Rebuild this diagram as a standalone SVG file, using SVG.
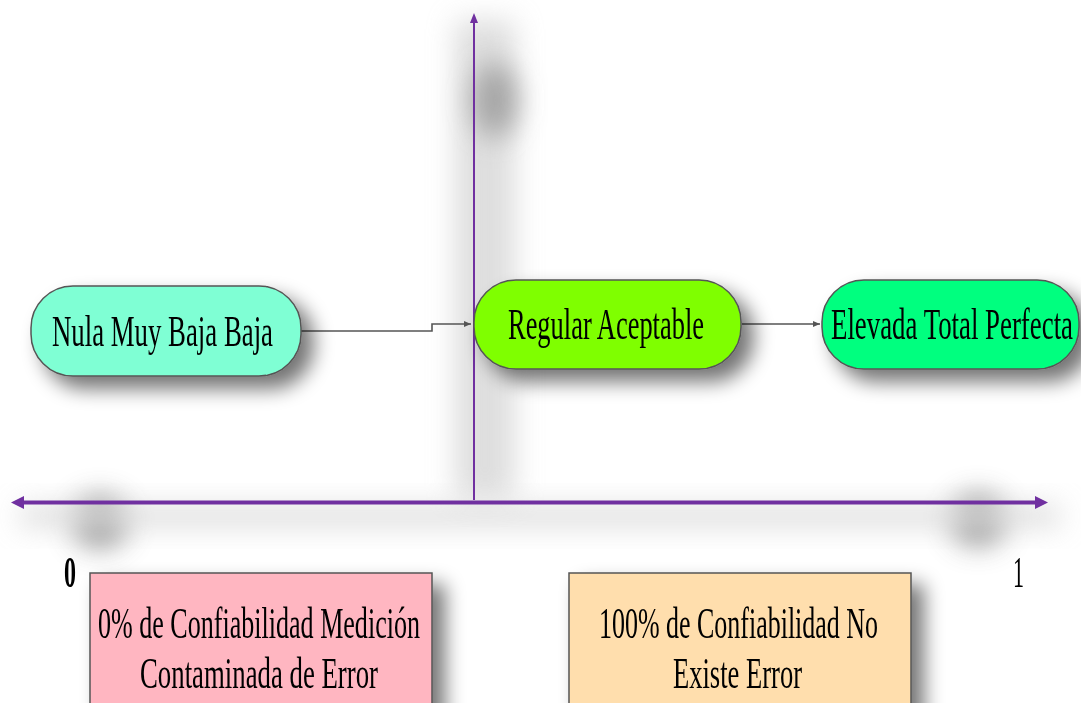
<svg xmlns="http://www.w3.org/2000/svg" width="1081" height="703" viewBox="0 0 1081 703">
<style>
  .t{font-family:"Liberation Serif","Times New Roman",serif;font-size:45px;fill:#000}
  .n{stroke:#555;stroke-width:1.5}
  .ax{stroke:#7030A0;fill:none}
  .cn{stroke:#555;stroke-width:1.6;fill:none}
</style>
<defs>
  <filter id="sh" x="-30%" y="-40%" width="160%" height="180%">
    <feGaussianBlur in="SourceAlpha" stdDeviation="10"/>
    <feOffset dx="12" dy="12" result="b"/>
    <feComponentTransfer><feFuncA type="linear" slope="0.55"/></feComponentTransfer>
    <feMerge><feMergeNode/><feMergeNode in="SourceGraphic"/></feMerge>
  </filter>
  <filter id="blob" x="-100%" y="-100%" width="300%" height="300%">
    <feGaussianBlur stdDeviation="14"/>
  </filter>
  <marker id="ah" markerWidth="8" markerHeight="8" refX="7" refY="4" orient="auto" markerUnits="userSpaceOnUse">
    <path d="M0,1 L7,4 L0,7 z" fill="#555"/>
  </marker>
</defs>
<rect width="1081" height="703" fill="#fff"/>
<g id="shadows" opacity="0.6">
  <rect x="455" y="20" width="60" height="480" fill="#c8c8c8" filter="url(#blob)"/>
  <ellipse cx="495" cy="100" rx="22" ry="38" fill="#666" filter="url(#blob)"/>
  <ellipse cx="100" cy="522" rx="28" ry="26" fill="#555" filter="url(#blob)"/>
  <ellipse cx="978" cy="520" rx="28" ry="26" fill="#555" filter="url(#blob)"/>
  <rect x="20" y="505" width="1040" height="22" fill="#c8c8c8" filter="url(#blob)"/>
</g>
<g id="axes">
  <line class="ax" x1="474" y1="500" x2="474" y2="22" stroke-width="2"/>
  <path d="M474,13 L478,23 L470,23 z" fill="#7030A0"/>
  <line class="ax" x1="22" y1="502.5" x2="1037" y2="502.5" stroke-width="4"/>
  <path d="M11,502.5 L24,496 L24,509 z" fill="#7030A0"/>
  <path d="M1048,502.5 L1035,496 L1035,509 z" fill="#7030A0"/>
</g>
<g id="connectors">
  <path class="cn" d="M301,331 H432 V324 H471" marker-end="url(#ah)"/>
  <path class="cn" d="M742,324 H820" marker-end="url(#ah)"/>
</g>
<g id="node-nula" filter="url(#sh)">
  <rect class="n" x="31" y="286" width="270" height="90" rx="42" ry="42" fill="#7FFFD4"/>
  <text class="t" x="52" y="346" textLength="221" lengthAdjust="spacingAndGlyphs">Nula  Muy Baja Baja</text>
</g>
<g id="node-regular" filter="url(#sh)">
  <rect class="n" x="474" y="280" width="267" height="89" rx="42" ry="42" fill="#7FFF00"/>
  <text class="t" x="508" y="339" textLength="196" lengthAdjust="spacingAndGlyphs">Regular Aceptable</text>
</g>
<g id="node-elevada" filter="url(#sh)">
  <rect class="n" x="822" y="280" width="257" height="89" rx="42" ry="42" fill="#00FF7F"/>
  <text class="t" x="831" y="339" textLength="242" lengthAdjust="spacingAndGlyphs">Elevada Total Perfecta</text>
</g>
<g id="label-0">
  <text class="t" x="64" y="587" font-weight="bold" font-size="38" textLength="12" lengthAdjust="spacingAndGlyphs">0</text>
</g>
<g id="label-1">
  <text class="t" x="1013" y="587" font-size="38" textLength="11" lengthAdjust="spacingAndGlyphs">1</text>
</g>
<g id="box-0" filter="url(#sh)">
  <rect class="n" x="90" y="573" width="342" height="160" fill="#FFB6C1"/>
  <text class="t" x="98" y="638" textLength="322" lengthAdjust="spacingAndGlyphs">0% de Confiabilidad Medición</text>
  <text class="t" x="140" y="688" textLength="238" lengthAdjust="spacingAndGlyphs">Contaminada de Error</text>
</g>
<g id="box-100" filter="url(#sh)">
  <rect class="n" x="569" y="573" width="342" height="160" fill="#FFDEAD"/>
  <text class="t" x="599" y="638" textLength="279" lengthAdjust="spacingAndGlyphs">100% de Confiabilidad No</text>
  <text class="t" x="673" y="688" textLength="129" lengthAdjust="spacingAndGlyphs">Existe Error</text>
</g>
</svg>
